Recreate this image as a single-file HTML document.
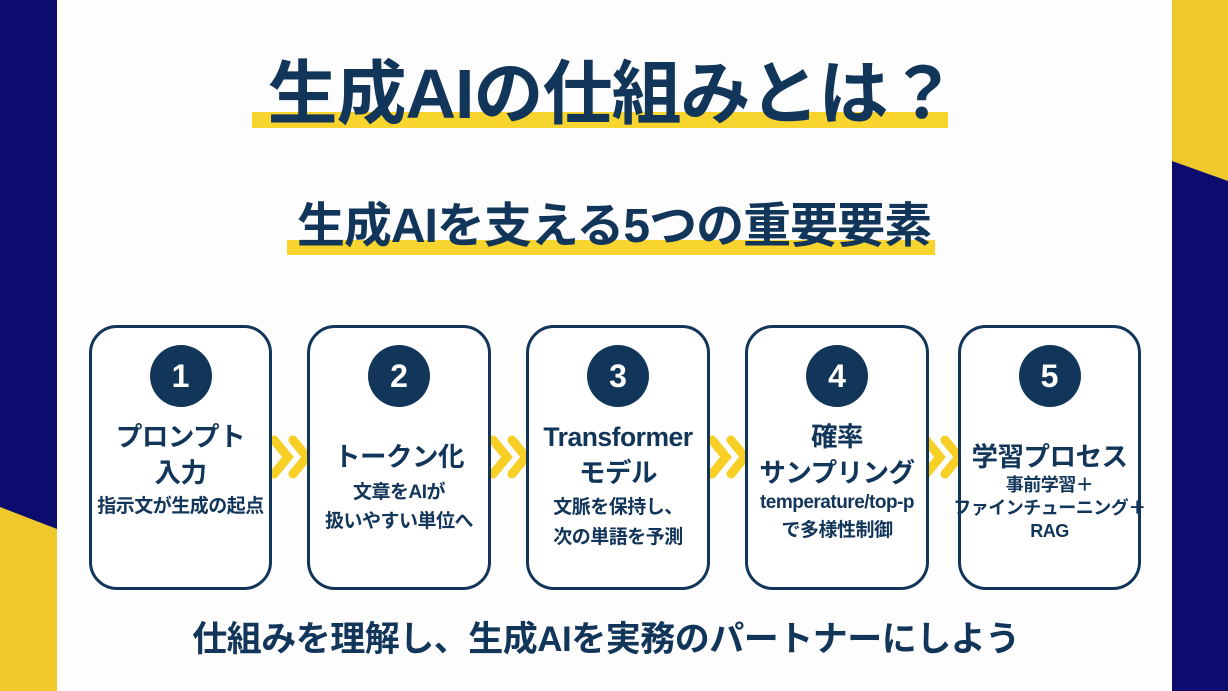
<!DOCTYPE html>
<html><head><meta charset="utf-8"><style>
*{margin:0;padding:0;box-sizing:border-box}
body{width:1228px;height:691px;position:relative;overflow:hidden;background:#fff;font-family:"Liberation Sans","Noto Sans CJK JP",sans-serif;color:#12355a;font-weight:700}
.abs{position:absolute}
.t{position:absolute;left:0;width:1228px;text-align:center;white-space:nowrap}
.box{position:absolute;top:325px;height:265px;border:3px solid #12355a;border-radius:28px;background:#fff;text-align:center}
.c{position:absolute;left:50%;top:17px;width:62px;height:62px;margin-left:-31px;border-radius:50%;background:#12355a;color:#fff;font-size:32px;line-height:62px;font-family:"Liberation Sans",sans-serif}
.h{position:absolute;left:-15px;right:-15px;font-size:26.5px;line-height:36px;white-space:nowrap;letter-spacing:-0.5px}
.s{position:absolute;left:-15px;right:-15px;font-size:19px;line-height:28px;white-space:nowrap;letter-spacing:-0.5px}
</style></head><body>
<svg class="abs" style="left:0;top:0" width="1228" height="691">
<rect x="0" y="0" width="57" height="691" fill="#0b0c6e"/>
<polygon points="0,507 57,529 57,691 0,691" fill="#efc92b"/>
<rect x="1172" y="0" width="56" height="691" fill="#0b0c6e"/>
<polygon points="1172,0 1228,0 1228,181 1172,161" fill="#efc92b"/>
<rect x="57" y="0" width="1115" height="691" fill="#fdfdfd"/>
<rect x="252" y="112" width="696" height="16" fill="#f7d52e"/>
<rect x="287" y="240" width="648" height="15" fill="#f7d52e"/>
<g fill="none" stroke="#f7cf25" stroke-width="9" stroke-linejoin="miter" stroke-linecap="round">
<path d="M274,440 L288,457 L274,474 M293,440 L307,457 L293,474"/>
<path d="M493,440 L507,457 L493,474 M512,440 L526,457 L512,474"/>
<path d="M712,440 L726,457 L712,474 M731,440 L745,457 L731,474"/>
<path d="M926,440 L940,457 L926,474 M945,440 L959,457 L945,474"/>
</g>
</svg>
<div class="t" style="top:52px;font-size:70px;line-height:84px;left:-2px;letter-spacing:-1px">生成AIの仕組みとは？</div>
<div class="t" style="top:196px;font-size:48px;line-height:62px;letter-spacing:-1px">生成AIを支える5つの重要要素</div>
<div class="t" style="top:618px;font-size:35px;line-height:44px;left:-8px;letter-spacing:-0.5px">仕組みを理解し、生成AIを実務のパートナーにしよう</div>

<div class="box" style="left:89px;width:183px"><div class="c">1</div>
<div class="h" style="top:91px">プロンプト<br>入力</div>
<div class="s" style="top:165px">指示文が生成の起点</div></div>

<div class="box" style="left:307px;width:184px"><div class="c">2</div>
<div class="h" style="top:111px">トークン化</div>
<div class="s" style="top:150px;line-height:29px">文章をAIが<br>扱いやすい単位へ</div></div>

<div class="box" style="left:526px;width:184px"><div class="c">3</div>
<div class="h" style="top:91px">Transformer<br>モデル</div>
<div class="s" style="top:165px;line-height:30px">文脈を保持し、<br>次の単語を予測</div></div>

<div class="box" style="left:745px;width:184px"><div class="c">4</div>
<div class="h" style="top:91px">確率<br>サンプリング</div>
<div class="s" style="top:161px">temperature/top-p<br>で多様性制御</div></div>

<div class="box" style="left:958px;width:183px"><div class="c">5</div>
<div class="h" style="top:111px">学習プロセス</div>
<div class="s" style="top:146px;font-size:18px;line-height:23px">事前学習＋<br>ファインチューニング＋<br>RAG</div></div>
</body></html>
